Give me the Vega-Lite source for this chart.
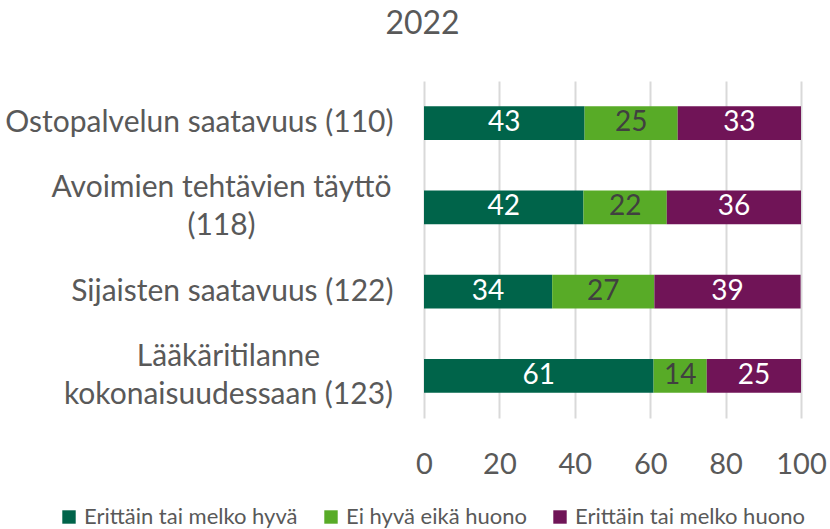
{
  "$schema": "https://vega.github.io/schema/vega-lite/v6.json",
  "width": 377,
  "height": 337,
  "autosize": {"type": "none"},
  "padding": {"left": 424, "top": 81, "right": 29, "bottom": 111},
  "background": "white",
  "title": {"text": "2022", "anchor": "middle", "frame": "group", "dx": -190, "fontSize": 32, "font": "Lato", "fontWeight": "normal", "color": "#595959", "offset": 40},
  "data": {"values": [
    {"cat": "Ostopalvelun saatavuus (110)", "g": "Erittäin tai melko hyvä", "n": 1, "value": 42.6, "label": 43},
    {"cat": "Ostopalvelun saatavuus (110)", "g": "Ei hyvä eikä huono", "n": 2, "value": 24.7, "label": 25},
    {"cat": "Ostopalvelun saatavuus (110)", "g": "Erittäin tai melko huono", "n": 3, "value": 32.7, "label": 33},
    {"cat": "Avoimien tehtävien täyttö|(118)", "g": "Erittäin tai melko hyvä", "n": 1, "value": 42.3, "label": 42},
    {"cat": "Avoimien tehtävien täyttö|(118)", "g": "Ei hyvä eikä huono", "n": 2, "value": 22.1, "label": 22},
    {"cat": "Avoimien tehtävien täyttö|(118)", "g": "Erittäin tai melko huono", "n": 3, "value": 35.6, "label": 36},
    {"cat": "Sijaisten saatavuus (122)", "g": "Erittäin tai melko hyvä", "n": 1, "value": 34.0, "label": 34},
    {"cat": "Sijaisten saatavuus (122)", "g": "Ei hyvä eikä huono", "n": 2, "value": 27.1, "label": 27},
    {"cat": "Sijaisten saatavuus (122)", "g": "Erittäin tai melko huono", "n": 3, "value": 38.8, "label": 39},
    {"cat": "Lääkäritilanne|kokonaisuudessaan (123)", "g": "Erittäin tai melko hyvä", "n": 1, "value": 60.9, "label": 61},
    {"cat": "Lääkäritilanne|kokonaisuudessaan (123)", "g": "Ei hyvä eikä huono", "n": 2, "value": 14.1, "label": 14},
    {"cat": "Lääkäritilanne|kokonaisuudessaan (123)", "g": "Erittäin tai melko huono", "n": 3, "value": 25.0, "label": 25}
  ]},
  "transform": [
    {"stack": "value", "groupby": ["cat"], "sort": [{"field": "n"}], "as": ["v0", "v1"]},
    {"calculate": "(datum.v0 + datum.v1) / 2", "as": "mid"}
  ],
  "encoding": {
    "y": {
      "field": "cat", "type": "nominal", "sort": null,
      "scale": {"paddingInner": 0.6, "paddingOuter": 0.3},
      "axis": {
        "title": null, "domain": false, "ticks": false, "grid": false,
        "labelExpr": "split(datum.label, '|')",
        "labelFont": "Lato", "labelFontSize": 30, "labelColor": "#595959",
        "labelLineHeight": 38, "labelLimit": 0,
        "labelAlign": {"condition": {"test": "indexof(datum.value, '|') >= 0", "value": "center"}, "value": "right"},
        "labelOffset": {"condition": {"test": "indexof(datum.value, '|') >= 0", "value": -19}, "value": 0},
        "labelPadding": {"condition": [
          {"test": "indexof(datum.value, 'Avoimien') >= 0", "value": 203},
          {"test": "indexof(datum.value, 'Lääkäri') >= 0", "value": 196}
        ], "value": 31}
      }
    }
  },
  "layer": [
    {
      "mark": {"type": "bar"},
      "encoding": {
        "x": {"field": "v0", "type": "quantitative",
          "scale": {"domain": [0, 100], "nice": false},
          "axis": {"title": null, "values": [0, 20, 40, 60, 80, 100], "domain": false, "ticks": false,
            "grid": true, "gridColor": "#d9d9d9", "gridWidth": 2, "labelFlush": false, "labelOverlap": false,
            "labelFont": "Lato", "labelFontSize": 29, "labelColor": "#595959", "labelPadding": 32}},
        "x2": {"field": "v1"},
        "color": {"field": "g", "type": "nominal",
          "scale": {"domain": ["Erittäin tai melko hyvä", "Ei hyvä eikä huono", "Erittäin tai melko huono"],
                    "range": ["#00644A", "#58AB27", "#701457"]},
          "legend": {"title": null, "orient": "none", "direction": "horizontal", "legendX": -366, "legendY": 425,
            "symbolType": "square", "symbolSize": 180, "symbolStrokeWidth": 0, "symbolOpacity": 1, "labelLimit": 0,
            "labelFont": "Lato", "labelFontSize": 22, "labelColor": "#595959", "columnPadding": 22, "labelOffset": 4}},
        "order": {"field": "n"}
      }
    },
    {
      "mark": {"type": "text", "font": "Lato", "fontSize": 28, "baseline": "middle", "align": "center"},
      "encoding": {
        "x": {"field": "mid", "type": "quantitative"},
        "text": {"field": "label", "type": "quantitative"},
        "color": {"condition": {"test": "datum.n == 2", "value": "#404040"}, "value": "white"}
      }
    }
  ],
  "config": {"view": {"stroke": null}}
}
